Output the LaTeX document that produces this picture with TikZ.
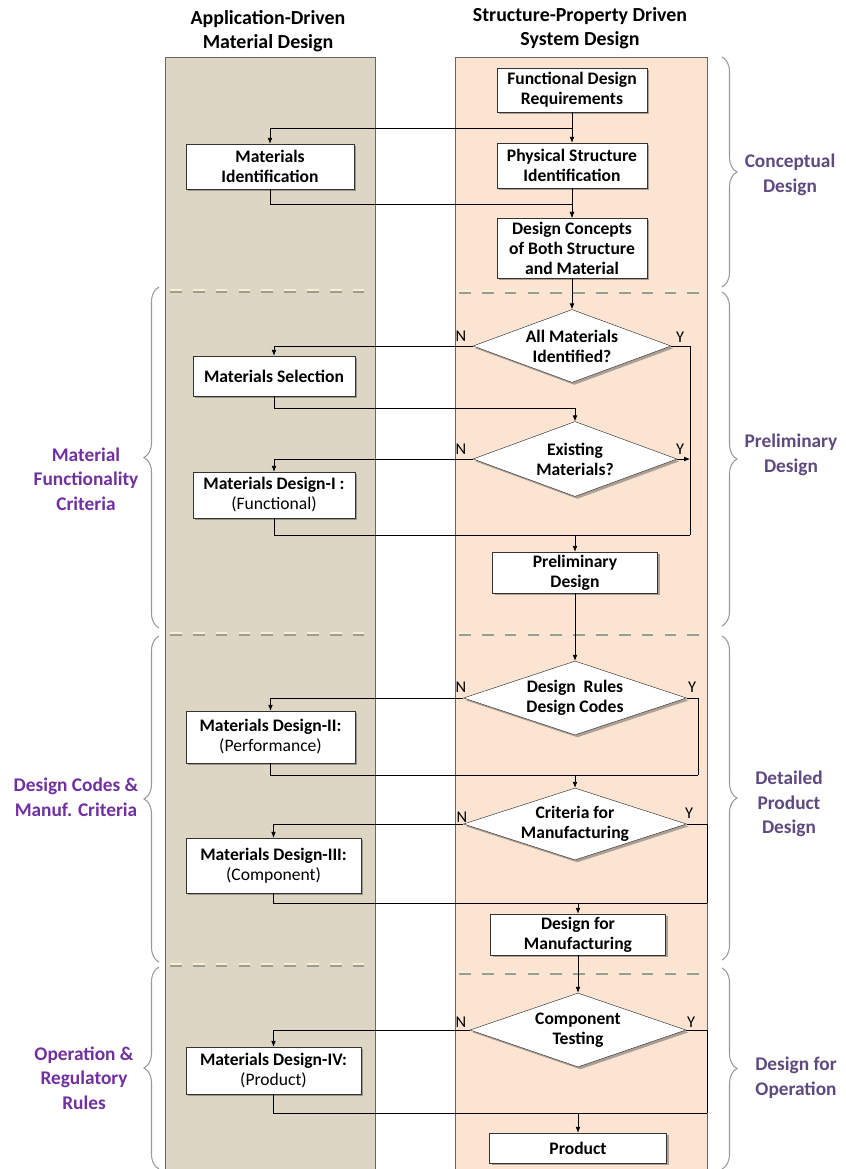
\documentclass[tikz,border=0pt]{standalone}
\usepackage{fontspec}
\setmainfont{Carlito}
\usetikzlibrary{shapes.geometric,arrows.meta,decorations.pathreplacing,shadows,calc}
\definecolor{tanband}{HTML}{DCD6C3}
\definecolor{peachband}{HTML}{FCE4D2}
\definecolor{leftlab}{HTML}{7030A0}
\definecolor{rightlab}{HTML}{5F4A80}
\definecolor{sepcream}{HTML}{F5F0D2}
\definecolor{sepgray}{HTML}{9C9C96}

\begin{document}
\begin{tikzpicture}[x=0.03cm,y=-0.03cm,
  box/.style={draw=black!80,fill=white,align=center,inner sep=1pt,
    font=\fontsize{15}{17}\selectfont\bfseries,
    drop shadow={shadow xshift=2pt,shadow yshift=-2pt,opacity=.45,fill=black!70}},
  dec/.style={diamond,draw=black!80,fill=white,inner sep=0pt,
    drop shadow={shadow xshift=2pt,shadow yshift=-2pt,opacity=.45,fill=black!70}},
  dlab/.style={align=center,font=\fontsize{15}{17}\selectfont\bfseries},
  yn/.style={font=\fontsize{14}{14}\selectfont},
  arr/.style={-{Latex[length=5pt,width=4pt]},line width=0.6pt},
  ln/.style={line width=0.6pt},
  brc/.style={decorate,decoration={brace,amplitude=0.45cm},draw=black!40,line width=0.9pt},
  side/.style={align=center,font=\fontsize{16.5}{21}\selectfont\bfseries},
  ttl/.style={align=center,font=\fontsize{17}{21}\selectfont\bfseries}]

\useasboundingbox (0,0) rectangle (846,1169);

% Columns
\fill[tanband] (165,57) rectangle (375,1169);
\draw[black!60] (165,1169) -- (165,57) -- (375,57) -- (375,1169);
\fill[peachband] (455,57) rectangle (707,1169);
\draw[black!60] (455,1169) -- (455,57) -- (707,57) -- (707,1169);
\node (ttl1) at (268,31) [ttl] {Application-Driven\\Material Design};
\node (ttl2) at (580,28) [ttl] {Structure-Property Driven\\System Design};

% Stage separators
\foreach \ya/\yb in {290/291, 633/633, 964/972} {
  \draw[sepgray,line width=3.2pt,dash pattern=on 10pt off 9.5pt] (170,\ya+0.9) -- (372,\ya+0.9);
  \draw[sepcream,line width=1.5pt,dash pattern=on 10pt off 9.5pt] (170,\ya) -- (372,\ya);
  \draw[sepgray,line width=3.2pt,dash pattern=on 10pt off 9.5pt] (459,\yb+0.9) -- (705,\yb+0.9);
  \draw[sepcream,line width=1.5pt,dash pattern=on 10pt off 9.5pt] (459,\yb) -- (705,\yb);
}

% Conceptual design
\node (fdr) at (572,90) [box,minimum width=4.5cm,minimum height=1.32cm] {Functional Design\\Requirements};
\node (psi) at (572,165.5) [box,minimum width=4.5cm,minimum height=1.35cm] {Physical Structure\\Identification};
\node (dc) at (572,248) [box,minimum width=4.5cm,minimum height=1.8cm] {Design Concepts\\of Both Structure\\and Material};
\node (mi) at (270,166.5) [box,minimum width=5.04cm,minimum height=1.35cm] {Materials\\Identification};

% Preliminary design
\node (d1) at (572,346) [dec,minimum width=5.94cm,minimum height=2.19cm,label={[dlab]center:All Materials\\Identified?}] {};
\node (ms) at (274,376) [box,minimum width=4.86cm,minimum height=1.2cm] {Materials Selection};
\node (d2) at (575,459) [dec,minimum width=6.12cm,minimum height=2.25cm,label={[dlab]center:Existing\\Materials?}] {};
\node (mdi) at (274,495) [box,minimum width=4.86cm,minimum height=1.38cm] {Materials Design-I :\\\mdseries(Functional)};
\node (pd) at (575,572.5) [box,minimum width=4.95cm,minimum height=1.23cm] {Preliminary\\Design};

% Detailed product design
\node (d3) at (575,698) [dec,minimum width=6.69cm,minimum height=2.22cm,label={[dlab]center:Design\ \ Rules\\Design Codes}] {};
\node (mdii) at (270.5,737) [box,minimum width=5.07cm,minimum height=1.56cm] {Materials Design-II:\\\mdseries(Performance)};
\node (d4) at (575,824) [dec,minimum width=6.69cm,minimum height=2.16cm,label={[dlab]center:Criteria for\\Manufacturing}] {};
\node (mdiii) at (273.5,865.5) [box,minimum width=5.25cm,minimum height=1.65cm] {Materials Design-III:\\\mdseries(Component)};
\node (dfm) at (578,934.5) [box,minimum width=5.25cm,minimum height=1.23cm] {Design for\\Manufacturing};

% Design for operation
\node (d5) at (578,1030) [dec,minimum width=6.48cm,minimum height=2.22cm,label={[dlab]center:Component\\Testing}] {};
\node (mdiv) at (273.5,1070.5) [box,minimum width=5.25cm,minimum height=1.41cm] {Materials Design-IV:\\\mdseries(Product)};
\node (prod) at (578,1148) [box,minimum width=5.31cm,minimum height=0.9cm] {Product};

% N / Y
\node (n1) at (461,336) [yn] {N};
\node (y1) at (680,337) [yn] {Y};
\node (n2) at (461,449) [yn] {N};
\node (y2) at (680,449) [yn] {Y};
\node (n3) at (461,687) [yn] {N};
\node (y3) at (692,687) [yn] {Y};
\node (n4) at (462,817) [yn] {N};
\node (y4) at (689,813) [yn] {Y};
\node (n5) at (461,1022) [yn] {N};
\node (y5) at (691,1022) [yn] {Y};

% Connectors
\draw[arr] (fdr) -- (psi);
\draw[arr] (fdr.south) -- ++(0,16) -| (mi.north);
\draw[arr] (psi) -- (dc);
\draw[arr] (mi.south) -- ++(0,15) -| (dc.north);
\draw[arr] (dc) -- (d1);
\draw[arr] (d1.west) -| (ms.north);
\coordinate (ry1) at (690,535);
\draw[ln] (d1.east) -| (ry1);
\draw[arr] (ms.south) -- ++(0,12) -| (d2.north);
\draw[arr] (d2.west) -| (mdi.north);
\draw[arr] (d2.east) -- (d2.east -| ry1);
\draw[ln] (mdi.south) |- (ry1);
\draw[arr] (pd.north |- ry1) -- (pd);
\draw[arr] (pd) -- (d3);
\draw[arr] (d3.west) -| (mdii.north);
\coordinate (ry2) at (698,775);
\draw[ln] (d3.east) -| (ry2);
\draw[ln] (mdii.south) |- (ry2);
\draw[arr] (d4.north |- ry2) -- (d4);
\draw[arr] (d4.west) -| (mdiii.north);
\coordinate (ry3) at (707,903);
\draw[ln] (d4.east) -| (ry3);
\draw[ln] (mdiii.south) |- (ry3);
\draw[arr] (dfm.north |- ry3) -- (dfm);
\draw[arr] (dfm) -- (d5);
\draw[arr] (d5.west) -| (mdiv.north);
\coordinate (ry4) at (707,1113);
\draw[ln] (d5.east) -| (ry4);
\draw[ln] (mdiv.south) |- (ry4);
\draw[arr] (prod.north |- ry4) -- (prod);

% Braces and stage labels
\draw[brc] (722,57) -- (722,287);
\draw[brc] (722,292) -- (722,626);
\draw[brc] (722,636) -- (722,960);
\draw[brc] (722,968) -- (722,1169);
\node (stg1) at (790,175) [side,text=rightlab] {Conceptual\\Design};
\node (stg2) at (791,455) [side,text=rightlab] {Preliminary\\Design};
\node (stg3) at (789,804) [side,text=rightlab] {Detailed\\Product\\Design};
\node (stg4) at (796,1078) [side,text=rightlab] {Design for\\Operation};
\draw[brc] (159,628) -- (159,287);
\draw[brc] (159,962) -- (159,636);
\draw[brc] (159,1169) -- (159,967);
\node (crt1) at (86,479) [side,text=leftlab] {Material\\Functionality\\Criteria};
\node (crt2) at (76,797) [side,text=leftlab] {Design Codes \&\\Manuf. Criteria};
\node (crt3) at (84,1078) [side,text=leftlab] {Operation \&\\Regulatory\\Rules};
\end{tikzpicture}
\end{document}
